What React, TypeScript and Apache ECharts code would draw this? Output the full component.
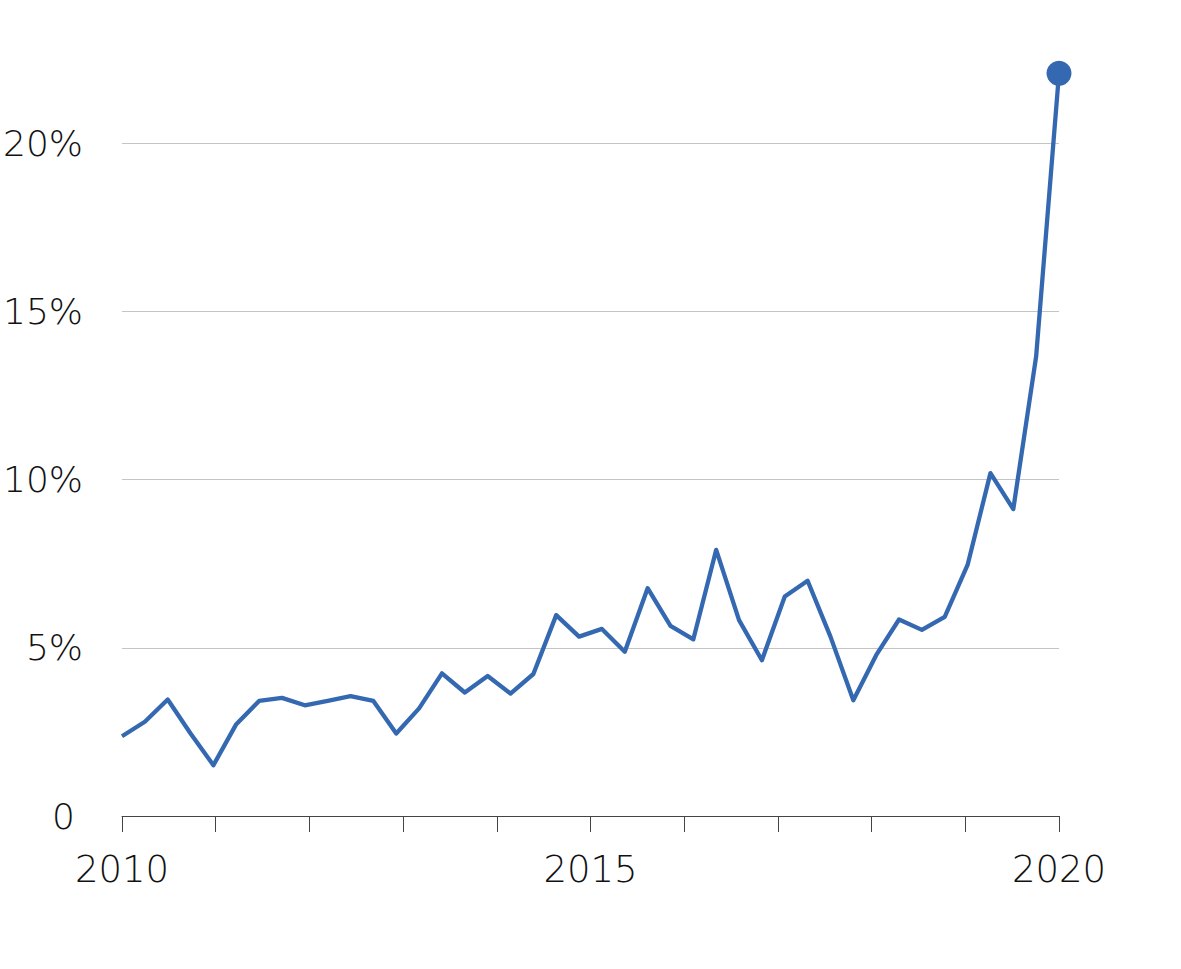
import React, { useEffect, useRef } from "react";
import * as echarts from "echarts";

// Quarterly observations, 2010 Q1 – 2020 Q2 (percent)
const quarters: string[] = [
  "2010Q1", "2010Q2", "2010Q3", "2010Q4",
  "2011Q1", "2011Q2", "2011Q3", "2011Q4",
  "2012Q1", "2012Q2", "2012Q3", "2012Q4",
  "2013Q1", "2013Q2", "2013Q3", "2013Q4",
  "2014Q1", "2014Q2", "2014Q3", "2014Q4",
  "2015Q1", "2015Q2", "2015Q3", "2015Q4",
  "2016Q1", "2016Q2", "2016Q3", "2016Q4",
  "2017Q1", "2017Q2", "2017Q3", "2017Q4",
  "2018Q1", "2018Q2", "2018Q3", "2018Q4",
  "2019Q1", "2019Q2", "2019Q3", "2019Q4",
  "2020Q1", "2020Q2",
];

const values: number[] = [
  2.37, 2.8, 3.46, 2.45,
  1.51, 2.73, 3.42, 3.51,
  3.29, 3.42, 3.56, 3.42,
  2.45, 3.2, 4.24, 3.67,
  4.16, 3.64, 4.22, 5.97,
  5.33, 5.56, 4.88, 6.77,
  5.65, 5.25, 7.91, 5.82,
  4.63, 6.52, 6.99, 5.33,
  3.44, 4.78, 5.84, 5.53,
  5.92, 7.46, 10.19, 9.12,
  13.66, 22.07,
];

const yearStart = 2010;
const yearEnd = 2020;
const yearLabels: number[] = [2010, 2015, 2020];
const yTicks = { min: 0, max: 20, interval: 5 };

const lineColor = "#3469b1";
const fontFamily = "'DejaVu Sans ExtraLight', 'DejaVu Sans', sans-serif";

export default function App() {
  const ref = useRef<HTMLDivElement>(null);

  useEffect(() => {
    document.body.style.margin = "0";
    if (!ref.current) return;
    const chart = echarts.init(ref.current, undefined, { renderer: "svg" });
    const lastIndex = values.length - 1;
    chart.setOption({
      animation: false,
      backgroundColor: "#ffffff",
      grid: {
        left: 122,
        right: 122,
        top: 143,
        bottom: 153,
        containLabel: false,
        outerBoundsMode: "none",
      },
      xAxis: [
        {
          type: "category",
          data: quarters,
          boundaryGap: false,
          show: false,
        },
        {
          type: "value",
          min: yearStart,
          max: yearEnd,
          interval: 1,
          position: "bottom",
          axisLine: { show: true, lineStyle: { color: "#444444", width: 1 } },
          axisTick: { show: true, inside: false, length: 16, lineStyle: { color: "#444444", width: 1 } },
          splitLine: { show: false },
          axisLabel: {
            show: true,
            margin: 35,
            fontSize: 37,
            fontWeight: 200,
            fontFamily,
            color: "#111111",
            formatter: (v: number) => (yearLabels.includes(v) ? String(v) : ""),
          },
        },
      ],
      yAxis: {
        type: "value",
        min: yTicks.min,
        max: yTicks.max,
        interval: yTicks.interval,
        axisLine: { show: false },
        axisTick: { show: false },
        splitLine: { show: true, lineStyle: { color: "#c4c4c4", width: 1 } },
        axisLabel: {
          margin: 39,
          fontSize: 36,
          fontWeight: 200,
          fontFamily,
          color: "#111111",
          formatter: (v: number) => (v === 0 ? "{z|0}" : v + "%"),
          rich: {
            z: { fontSize: 36, fontWeight: 200, fontFamily, color: "#111111", padding: [0, 8, 0, 0] },
          },
        },
      },
      series: [
        {
          type: "line",
          xAxisIndex: 0,
          data: values.map((v, i) =>
            i === lastIndex
              ? { value: v, symbol: "circle", symbolSize: 25, itemStyle: { color: lineColor } }
              : { value: v, symbol: "none" }
          ),
          clip: false,
          showSymbol: true,
          lineStyle: { color: lineColor, width: 4.3, join: "round" },
          itemStyle: { color: lineColor },
          z: 5,
        },
      ],
    });
    return () => chart.dispose();
  }, []);

  return <div ref={ref} style={{ width: 1181, height: 969 }} />;
}
